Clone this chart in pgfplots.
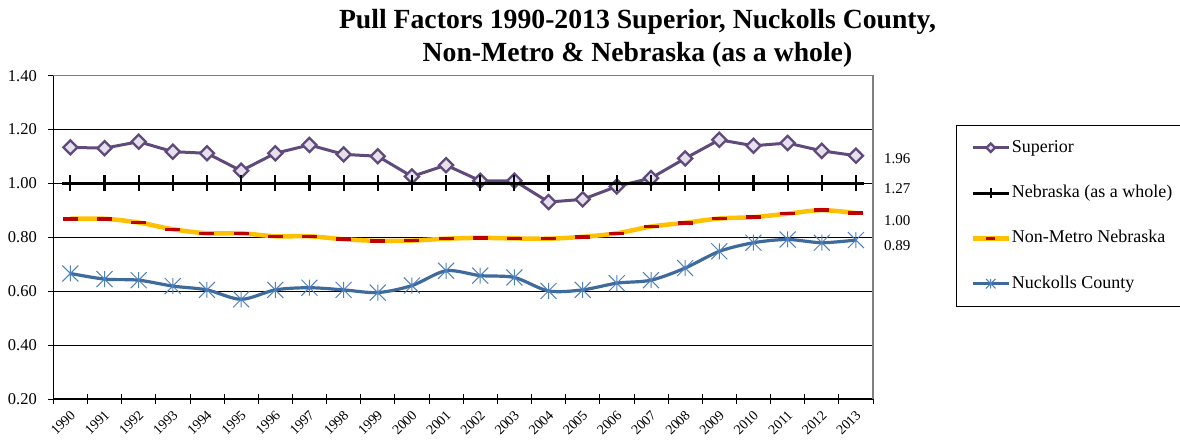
\documentclass[border=0pt]{standalone}
\usepackage{pgfplots}
\usepackage{pgfplotstable}
\pgfplotsset{compat=1.18}
\usepackage{fontspec}
\setmainfont{Liberation Serif}
\definecolor{supline}{HTML}{604A7B}
\definecolor{supfill}{HTML}{E6E0EC}
\definecolor{nmyellow}{HTML}{FFC000}
\definecolor{nmred}{HTML}{C00000}
\definecolor{nkline}{HTML}{3F6A9C}
\definecolor{nkmark}{HTML}{4F81BD}
\pgfdeclareplotmark{xstar}{%
  \pgfpathmoveto{\pgfqpoint{0pt}{\pgfplotmarksize}}%
  \pgfpathlineto{\pgfqpoint{0pt}{-\pgfplotmarksize}}%
  \pgfpathmoveto{\pgfqpoint{-\pgfplotmarksize}{-\pgfplotmarksize}}%
  \pgfpathlineto{\pgfqpoint{\pgfplotmarksize}{\pgfplotmarksize}}%
  \pgfpathmoveto{\pgfqpoint{-\pgfplotmarksize}{\pgfplotmarksize}}%
  \pgfpathlineto{\pgfqpoint{\pgfplotmarksize}{-\pgfplotmarksize}}%
  \pgfusepathqstroke}
\pgfplotstableread{
x sup neb nm nk
0  1.134 1.00 0.869 0.666
1  1.131 1.00 0.869 0.645
2  1.155 1.00 0.855 0.641
3  1.118 1.00 0.830 0.619
4  1.112 1.00 0.815 0.605
5  1.047 1.00 0.815 0.570
6  1.112 1.00 0.804 0.605
7  1.143 1.00 0.804 0.613
8  1.108 1.00 0.793 0.605
9  1.101 1.00 0.787 0.595
10 1.026 1.00 0.788 0.621
11 1.068 1.00 0.795 0.676
12 1.010 1.00 0.798 0.658
13 1.010 1.00 0.796 0.651
14 0.931 1.00 0.795 0.601
15 0.941 1.00 0.802 0.605
16 0.989 1.00 0.815 0.630
17 1.020 1.00 0.840 0.641
18 1.093 1.00 0.854 0.686
19 1.162 1.00 0.870 0.748
20 1.140 1.00 0.875 0.780
21 1.150 1.00 0.888 0.792
22 1.121 1.00 0.901 0.780
23 1.103 1.00 0.890 0.790
}\data
\begin{document}
\begin{tikzpicture}[x=1pt,y=1pt]
\useasboundingbox (0,0) rectangle (1180,443);
\begin{axis}[
  at={(53.3pt,44pt)}, anchor=south west,
  scale only axis, width=819.7pt, height=323.3pt,
  xmin=-0.5, xmax=23.5, ymin=0.2, ymax=1.4,
  axis x line*=bottom, axis y line*=left,
  axis line style={black, line width=1pt},
  /pgf/number format/assume math mode=true,
  ytick={0.2,0.4,0.6,0.8,1.0,1.2,1.4},
  yticklabel style={/pgf/number format/.cd, fixed, fixed zerofill, precision=2, /tikz/.cd, font=\fontsize{16.5}{18}\selectfont, xshift=-8pt},
  xtick={0,1,2,3,4,5,6,7,8,9,10,11,12,13,14,15,16,17,18,19,20,21,22,23},
  xticklabels={1990,1991,1992,1993,1994,1995,1996,1997,1998,1999,2000,2001,2002,2003,2004,2005,2006,2007,2008,2009,2010,2011,2012,2013},
  major x tick style={draw=none},
  minor xtick={-0.5,0.5,...,23.5},
  minor x tick style={black, line width=0.8pt},
  xticklabel style={rotate=45, anchor=east, font=\fontsize{14}{16}\selectfont, yshift=-8pt, xshift=-1pt},
  major tick length=10pt, minor tick length=10pt, tick align=center,
  tick style={black, line width=0.8pt},
  ymajorgrids, xmajorgrids=false,
  major grid style={black, line width=0.6pt},
  legend style={at={(1.1013,0.8484)}, anchor=north west, draw=black, line width=0.8pt,
    inner xsep=14pt, inner ysep=0pt, row sep=0pt, column sep=1pt,
    font=\fontsize{18}{20}\selectfont,
    nodes={inner sep=0pt, text height=27.15pt, text depth=18.15pt}},
  legend cell align=left,
  legend image code/.code={\draw[mark repeat=2, mark phase=2, #1, /tikz/every mark/.append style={scale=0.6}] plot coordinates {(0pt,0pt) (18pt,0pt) (36pt,0pt)};},
  after end axis/.code={\draw[gray, line width=1.5pt] (rel axis cs:0,1) -- (rel axis cs:1,1) -- (rel axis cs:1,0);},
]
\addplot[supline, line width=3pt, mark=square*, mark size=5pt,
  mark options={rotate=45, fill=supfill, draw=supline, line width=2.3pt}] table[x=x,y=sup]{\data};
\addlegendentry{Superior}
\addplot[black, line width=3pt, mark=+, mark size=8pt, mark options={line width=2.2pt}] table[x=x,y=neb]{\data};
\addlegendentry{Nebraska (as a whole)}
\addplot[nmyellow, line width=4.5pt, smooth, mark=-, mark size=7.5pt, mark options={nmred, line width=3.5pt}] table[x=x,y=nm]{\data};
\addlegendentry{Non-Metro Nebraska}
\addplot[nkline, line width=3.2pt, smooth, mark=xstar, mark size=8pt, mark options={nkmark, line width=1pt}] table[x=x,y=nk]{\data};
\addlegendentry{Nuckolls County}
\end{axis}
\node[anchor=base, font=\fontsize{27.7}{33}\selectfont\bfseries] at (637.5,414.5) {Pull Factors 1990-2013 Superior, Nuckolls County,};
\node[anchor=base, font=\fontsize{27.7}{33}\selectfont\bfseries] at (637.5,381.5) {Non-Metro \& Nebraska (as a whole)};
\node[anchor=west, inner sep=0pt, font=\fontsize{15}{17}\selectfont] at (884,284.3) {1.96};
\node[anchor=west, inner sep=0pt, font=\fontsize{15}{17}\selectfont] at (884,254.7) {1.27};
\node[anchor=west, inner sep=0pt, font=\fontsize{15}{17}\selectfont] at (884,222.3) {1.00};
\node[anchor=west, inner sep=0pt, font=\fontsize{15}{17}\selectfont] at (884,197) {0.89};
\end{tikzpicture}
\end{document}
